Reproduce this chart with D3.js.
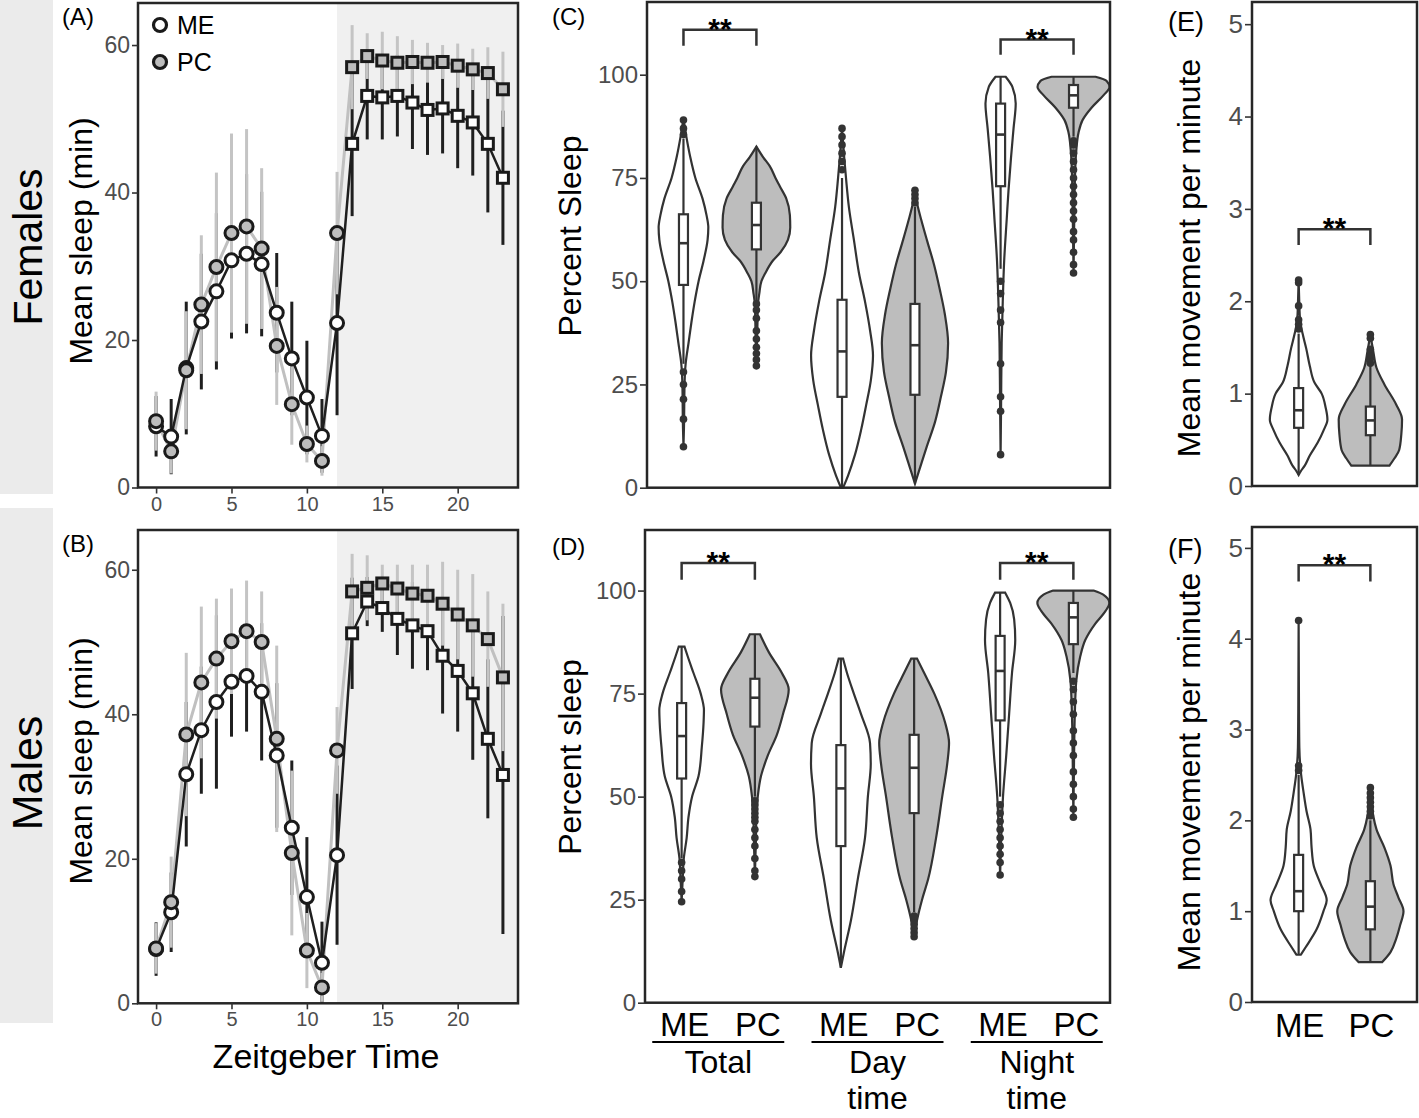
<!DOCTYPE html>
<html>
<head>
<meta charset="utf-8">
<script src="https://cdn.jsdelivr.net/npm/d3@7"></script>
<style>
  body { margin: 0; background: #fff; }
  svg { display: block; }
</style>
</head>
<body>
<svg width="1419" height="1118"></svg>
<script>
// sleep of ME vs PC flies, females on top, males below

var FONT = "'Liberation Sans', Arial, Helvetica, sans-serif";
var INK = "#333333", TICKTXT = "#4d4d4d", PCFILL = "#bdbdbd", NIGHT = "#f0f0f0";

// ---------------- data: mean sleep per hour (A, B) ----------------
var zt = [0,1,2,3,4,5,6,7,8,9,10,11,12,13,14,15,16,17,18,19,20,21,22,23];

var femME   = [8.3,6.9,16.2,22.5,26.6,30.8,31.7,30.3,23.7,17.5,12.2,7.0,22.3,46.6,53.1,52.9,53.1,52.2,51.2,51.4,50.4,49.5,46.6,42.0];
var femMEse = [4.1,5.1,9.0,9.2,10.6,10.6,10.8,9.8,8.1,7.7,7.7,5.0,12.5,9.8,5.9,5.7,5.5,6.3,6.1,6.1,7.1,7.2,9.3,9.1];
var femPC   = [9.0,4.9,15.9,24.8,29.9,34.5,35.4,32.4,19.2,11.3,5.9,3.6,34.5,57.0,58.5,57.9,57.6,57.7,57.6,57.7,57.2,56.7,56.2,54.0];
var femPCse = [4.0,3.0,8.0,9.4,12.8,13.5,13.2,10.9,8.0,5.5,2.5,2.0,8.3,5.7,3.1,3.9,3.6,3.0,2.7,2.3,3.0,2.8,3.5,5.1];

var maleME   = [7.5,12.6,31.7,37.8,41.7,44.5,45.3,43.1,34.3,24.3,14.7,5.6,20.5,51.2,55.6,54.7,53.2,52.3,51.5,48.1,46.0,42.9,36.6,31.6];
var maleMEse = [3.7,5.5,10.0,8.8,12.0,7.6,7.7,9.5,10.0,9.3,8.3,5.7,12.4,7.7,3.4,3.3,5.0,6.0,5.4,8.0,8.4,9.2,11.0,22.0];
var malePC   = [7.6,14.0,37.2,44.4,47.7,50.1,51.5,50.0,36.6,20.8,7.3,2.2,35.0,57.0,57.5,58.1,57.4,56.7,56.4,55.3,53.8,52.3,50.4,45.1];
var malePCse = [3.5,6.3,11.3,10.5,8.3,7.3,7.0,7.0,12.9,11.4,5.2,2.0,6.0,5.2,4.5,2.6,3.3,4.0,4.3,5.8,6.2,7.1,6.6,10.2];

// ---------------- data: violins (value, relative density) ----------------
var strains = ["ME", "PC"];
var periods = ["Total", "Day time", "Night time"];

// panel C, females, percent sleep
var cTotME = [[9.9,0],[15,.015],[25,.03],[30,.06],[35,.14],[40,.22],[45,.31],[50,.42],[55,.56],[60,.67],[63,.69],[66,.64],[70,.53],[75,.33],[80,.19],[85,.08],[89.4,0]];
var cTotPC = [[29.5,0],[35,.017],[40,.03],[44,.04],[47,.08],[50,.14],[52,.25],[55,.46],[57,.67],[60,.875],[63,.94],[66,.93],[70,.83],[73,.65],[75,.53],[77.8,.375],[80,.19],[82.6,0]];
var cDayME = [[0,.03],[3,.17],[8,.36],[14,.53],[20,.67],[26,.8],[32,.86],[38,.78],[45,.64],[52,.47],[60,.33],[68,.19],[75,.11],[80,.06],[87,0]];
var cDayPC = [[1,0],[4,.11],[10,.33],[16,.56],[22,.72],[28,.86],[35,.92],[42,.83],[48,.69],[54,.53],[60,.33],[65,.17],[68,.08],[72,0]];
var cNigME = [[8,0],[20,.014],[35,.03],[45,.06],[55,.1],[65,.17],[72,.22],[80,.29],[87,.36],[93,.42],[97,.33],[99.5,.14]];
var cNigPC = [[52,0],[65,.02],[75,.04],[82,.08],[86,.14],[89,.25],[92,.5],[95,.83],[97,1],[98.5,.92],[99.5,.61]];
// whisker low, q1, median, q3, whisker high
var cBox = [[30,49.1,59.2,66.2,84.5],[45,57.7,63.6,69.0,82.6],[0,22,33,45.5,75],[1,22.5,34.5,44.5,68],[53,73,85.5,93,99.5],[85,92,95,97.5,99.5]];
var cOut = [[9.9,16.6,21.4,25,28,85.5,87,89],[29.5,31,32.5,34,36,38,41,43,44.5],[77,79,81,83,85,87],[69,70,71,72],[8,18.5,22,30,40,43,47,50],[52,54,57,60,62,65,67,69,71,73,75,77,79,81,83,84]];

// panel D, males, percent sleep
var dTotME = [[24.5,0],[30,.03],[35,.06],[40,.14],[45,.19],[50,.29],[55,.47],[62,.56],[68,.61],[71,.62],[75,.53],[80,.33],[84,.17],[86.4,.08]];
var dTotPC = [[30.6,0],[40,.03],[45,.04],[50,.08],[55,.17],[60,.36],[65,.61],[70,.78],[76,.94],[80,.75],[85,.39],[89.4,.14]];
var dDayME = [[8.5,0],[12,.08],[20,.28],[30,.47],[40,.67],[50,.75],[58,.83],[63,.81],[70,.56],[75,.36],[80,.17],[83.5,.06]];
var dDayPC = [[16,0],[20,.08],[25,.22],[30,.39],[40,.61],[50,.78],[58,.92],[63,.97],[68,.86],[75,.56],[80,.28],[83.5,.08]];
var dNigME = [[31,0],[40,.03],[50,.08],[60,.17],[70,.25],[80,.33],[88,.42],[93,.39],[97,.28],[99.5,.14]];
var dNigPC = [[45,0],[60,.02],[70,.04],[78,.08],[84,.19],[88,.33],[92,.61],[95,.89],[97,1],[99,.83],[100,.56]];
var dBox = [[35,54.4,64.7,72.7,86.4],[50,67,74,78.6,89.4],[8.5,38,52,62.5,83.5],[22,46,57,65,83.5],[50,68.5,80.5,89,99.5],[80,87,93.5,97,100]];
var dOut = [[24.5,27,30,32,34],[30.6,32,35,38,40,42,44,45,46,47,48,49],[],[16,17,18,19,20,21],[31,34,36,38,40,42,44,46,48],[45,47,50,53,56,60,63,66,70,73,76,78]];

// panels E, F, mean movement per minute
var eME = [[0.12,0],[0.16,.06],[0.22,.17],[0.33,.31],[0.47,.53],[0.6,.69],[0.72,.8],[0.85,.75],[1.0,.64],[1.12,.44],[1.3,.31],[1.49,.21],[1.65,.11],[1.8,.04],[2.0,.017],[2.23,0]];
var ePC = [[0.22,.53],[0.3,.67],[0.39,.8],[0.56,.86],[0.72,.88],[0.88,.72],[1.1,.39],[1.28,.17],[1.46,.08],[1.64,0]];
var eBox = [[0.12,0.63,0.82,1.06,1.65],[0.22,0.55,0.71,0.86,1.3]];
var eOut = [[1.7,1.75,1.8,1.95,2.2,2.23],[1.33,1.38,1.42,1.48,1.6,1.64]];

var fME = [[0.52,.06],[0.6,.19],[0.8,.5],[1.0,.69],[1.12,.78],[1.3,.61],[1.5,.42],[1.7,.36],[1.9,.33],[2.1,.22],[2.3,.14],[2.5,.07],[2.8,.02],[3.2,.01],[4.2,0]];
var fPC = [[0.44,.33],[0.55,.56],[0.7,.72],[0.85,.83],[1.0,.92],[1.15,.78],[1.3,.64],[1.5,.56],[1.7,.39],[1.9,.17],[2.05,.08],[2.2,.03],[2.36,0]];
var fBox = [[0.52,1.0,1.22,1.62,2.5],[0.44,0.8,1.05,1.33,2.0]];
var fOut = [[2.55,2.6,4.2],[2.05,2.1,2.15,2.2,2.25,2.3,2.36]];

// significance brackets: [first index, second index, top value, foot value]
var cSig = [[0,1,110.9,107.0],[4,5,108.5,104.8]];
var dSig = [[0,1,106.7,102.6],[4,5,106.7,102.6]];
var eSig = [[0,1,2.78,2.61]];
var fSig = [[0,1,4.81,4.63]];

// ------------------------------------------------------------------
var svg = d3.select("svg").attr("font-family", FONT);

// row strips
svg.append("rect").attr("x", 0).attr("y", 0).attr("width", 53).attr("height", 494).attr("fill", "#ebebeb");
svg.append("rect").attr("x", 0).attr("y", 508).attr("width", 53).attr("height", 515).attr("fill", "#ebebeb");
vtext(42, 247, "Females", 41, "#000");
vtext(42, 773, "Males", 43, "#000");

function vtext(x, y, s, size, col) {
  return svg.append("text")
    .attr("transform", "translate(" + [x, y] + ") rotate(-90)")
    .attr("text-anchor", "middle")
    .attr("font-size", size)
    .attr("fill", col)
    .text(s);
}

function label(x, y, s, size, anchor, weight) {
  return svg.append("text")
    .attr("x", x).attr("y", y)
    .attr("text-anchor", anchor || "start")
    .attr("font-size", size)
    .attr("font-weight", weight || "normal")
    .attr("fill", "#000")
    .text(s);
}

function styleAxis(g, size) {
  g.attr("font-family", FONT).attr("font-size", size);
  g.select(".domain").remove();
  g.selectAll(".tick line").attr("stroke", INK).attr("stroke-width", 1.6);
  g.selectAll(".tick text").attr("fill", TICKTXT);
}

// ---------------- A / B time course ----------------
function sleepPanel(o) {
  var x = d3.scaleLinear().domain([-1.2, 24]).range([138, 518]);
  var y = d3.scaleLinear().domain([0, o.ymax]).range([o.bottom, o.top]);
  var g = svg.append("g");

  g.append("rect")
    .attr("x", x(12)).attr("y", o.top)
    .attr("width", 518 - x(12)).attr("height", o.bottom - o.top)
    .attr("fill", NIGHT);

  var me = zt.map(function(t, i){ return {t: t, m: o.me[i], se: o.meSe[i]}; });
  var pc = zt.map(function(t, i){ return {t: t, m: o.pc[i], se: o.pcSe[i]}; });

  function bars(data, col) {
    g.append("g").selectAll("line").data(data).enter().append("line")
      .attr("x1", function(d){ return x(d.t); })
      .attr("x2", function(d){ return x(d.t); })
      .attr("y1", function(d){ return y(Math.max(0, d.m - d.se)); })
      .attr("y2", function(d){ return y(d.m + d.se); })
      .attr("stroke", col).attr("stroke-width", 3);
  }
  bars(me, "#1f1f1f");
  bars(pc, "#c4c4c4");

  var line = d3.line().x(function(d){ return x(d.t); }).y(function(d){ return y(d.m); });
  g.append("path").datum(pc).attr("d", line).attr("fill", "none").attr("stroke", "#c0c0c0").attr("stroke-width", 3);
  g.append("path").datum(me).attr("d", line).attr("fill", "none").attr("stroke", "#1f1f1f").attr("stroke-width", 2.5);

  function marks(data, fill) {
    var mg = g.append("g");
    mg.selectAll("circle").data(data.filter(function(d){ return d.t <= 12; })).enter().append("circle")
      .attr("cx", function(d){ return x(d.t); })
      .attr("cy", function(d){ return y(d.m); })
      .attr("r", 6.5)
      .attr("fill", fill).attr("stroke", "#1a1a1a").attr("stroke-width", 3);
    mg.selectAll("rect").data(data.filter(function(d){ return d.t > 12; })).enter().append("rect")
      .attr("x", function(d){ return x(d.t) - 5.5; })
      .attr("y", function(d){ return y(d.m) - 5.5; })
      .attr("width", 11).attr("height", 11)
      .attr("fill", fill).attr("stroke", "#1a1a1a").attr("stroke-width", 3);
  }
  marks(me, "#fff");
  marks(pc, PCFILL);

  g.append("rect")
    .attr("x", 138).attr("y", o.top)
    .attr("width", 380).attr("height", o.bottom - o.top)
    .attr("fill", "none").attr("stroke", "#262626").attr("stroke-width", 2.5);

  var ay = g.append("g").attr("transform", "translate(138,0)")
    .call(d3.axisLeft(y).tickValues([0, 20, 40, 60]).tickSize(6).tickPadding(2));
  styleAxis(ay, 23);
  var ax = g.append("g").attr("transform", "translate(0," + o.bottom + ")")
    .call(d3.axisBottom(x).tickValues([0, 5, 10, 15, 20]).tickSize(6).tickPadding(3));
  styleAxis(ax, 20);

  vtext(92, o.titleY, "Mean sleep (min)", 32, "#000");
  label(62, o.top + 22, o.tag, 24);

  if (o.legend) {
    [["ME", "#fff", 25], ["PC", PCFILL, 62]].forEach(function(l){
      g.append("circle").attr("cx", 160).attr("cy", l[2]).attr("r", 6.5)
        .attr("fill", l[1]).attr("stroke", "#1a1a1a").attr("stroke-width", 3.2);
      label(177, l[2] + 9, l[0], 25);
    });
  }
}

sleepPanel({top: 3, bottom: 487.5, ymax: 65.7, me: femME, meSe: femMEse, pc: femPC, pcSe: femPCse, tag: "(A)", titleY: 241, legend: true});
sleepPanel({top: 530, bottom: 1003.3, ymax: 65.5, me: maleME, meSe: maleMEse, pc: malePC, pcSe: malePCse, tag: "(B)", titleY: 761, legend: false});
label(326, 1068, "Zeitgeber Time", 34, "middle");

// ---------------- violin panels ----------------
var wScale = d3.scaleLinear().domain([0, 1]).range([0, 36]);

function violinPanel(o) {
  var y = d3.scaleLinear().domain([0, o.ymax]).range([o.bottom, o.top]);
  var g = svg.append("g");

  var area = d3.area()
    .curve(d3.curveMonotoneY)
    .y(function(d){ return y(d[0]); });

  o.viol.forEach(function(v, i){
    var cx = o.cx(i);
    g.append("path").datum(v)
      .attr("d", area.x0(function(d){ return cx - wScale(d[1]); }).x1(function(d){ return cx + wScale(d[1]); }))
      .attr("fill", i % 2 ? PCFILL : "#fff")
      .attr("stroke", INK).attr("stroke-width", 2.2);

    var b = o.box[i];
    g.append("line").attr("x1", cx).attr("x2", cx).attr("y1", y(b[0])).attr("y2", y(b[4]))
      .attr("stroke", INK).attr("stroke-width", 2.2);
    g.append("g").selectAll("circle").data(o.out[i]).enter().append("circle")
      .attr("cx", cx).attr("cy", function(d){ return y(d); }).attr("r", 3.8)
      .attr("fill", INK);
    g.append("rect").attr("x", cx - 4.5).attr("width", 9)
      .attr("y", y(b[3])).attr("height", y(b[1]) - y(b[3]))
      .attr("fill", "#fff").attr("stroke", INK).attr("stroke-width", 2.2);
    g.append("line").attr("x1", cx - 4.5).attr("x2", cx + 4.5).attr("y1", y(b[2])).attr("y2", y(b[2]))
      .attr("stroke", INK).attr("stroke-width", 2.6);
  });

  o.sig.forEach(function(s){
    var x1 = o.cx(s[0]), x2 = o.cx(s[1]);
    g.append("path")
      .attr("d", "M" + x1 + "," + y(s[3]) + "V" + y(s[2]) + "H" + x2 + "V" + y(s[3]))
      .attr("fill", "none").attr("stroke", INK).attr("stroke-width", 2.5);
    label((x1 + x2) / 2, y(s[2]) + 9, "**", 30, "middle", "bold");
  });

  g.append("rect")
    .attr("x", o.left).attr("y", o.top)
    .attr("width", o.right - o.left).attr("height", o.bottom - o.top)
    .attr("fill", "none").attr("stroke", "#262626").attr("stroke-width", 2.5);

  var ay = g.append("g").attr("transform", "translate(" + o.left + ",0)")
    .call(d3.axisLeft(y).tickValues(o.ticks).tickFormat(d3.format("d")).tickSize(7).tickPadding(2));
  styleAxis(ay, o.tickSize);

  vtext(o.titleX, o.titleY, o.title, 32, "#000");
  label(o.tagX, o.top + o.tagDy, o.tag, o.tagSize);
}

// x positions for C, D: three periods, two strains each
function periodX(left, right) {
  var x = d3.scaleLinear().domain([-0.46, 2.46]).range([left, right]);
  return function(i){ return x(Math.floor(i / 2) + (i % 2 ? 0.23 : -0.23)); };
}
var xC = periodX(647, 1110), xD = periodX(645, 1110);

violinPanel({top: 2, bottom: 487.7, left: 647, right: 1110, ymax: 117.6, ticks: [0,25,50,75,100], tickSize: 24,
  viol: [cTotME, cTotPC, cDayME, cDayPC, cNigME, cNigPC], box: cBox, out: cOut, sig: cSig, cx: xC,
  title: "Percent Sleep", titleX: 581, titleY: 236, tag: "(C)", tagX: 552, tagDy: 23, tagSize: 24});
violinPanel({top: 530, bottom: 1002.7, left: 645, right: 1110, ymax: 114.7, ticks: [0,25,50,75,100], tickSize: 24,
  viol: [dTotME, dTotPC, dDayME, dDayPC, dNigME, dNigPC], box: dBox, out: dOut, sig: dSig, cx: xD,
  title: "Percent sleep", titleX: 581, titleY: 757, tag: "(D)", tagX: 552, tagDy: 25, tagSize: 24});

var xE = d3.scalePoint().domain(strains).range([1252, 1417]).padding(0.65);
var xEi = function(i){ return xE(strains[i]); };

violinPanel({top: 2, bottom: 486, left: 1252, right: 1417, ymax: 5.24, ticks: [0,1,2,3,4,5], tickSize: 26,
  viol: [eME, ePC], box: eBox, out: eOut, sig: eSig, cx: xEi,
  title: "Mean movement per minute", titleX: 1200, titleY: 258, tag: "(E)", tagX: 1168, tagDy: 29, tagSize: 27});
violinPanel({top: 527, bottom: 1002, left: 1252, right: 1417, ymax: 5.23, ticks: [0,1,2,3,4,5], tickSize: 26,
  viol: [fME, fPC], box: fBox, out: fOut, sig: fSig, cx: xEi,
  title: "Mean movement per minute", titleX: 1200, titleY: 772, tag: "(F)", tagX: 1168, tagDy: 31, tagSize: 27});

// ---------------- category labels under C/D and F ----------------
periods.forEach(function(p, k){
  strains.forEach(function(s, j){
    label(xD(k * 2 + j) + 3, 1036, s, 33, "middle");
  });
  var mid = (xD(k * 2) + xD(k * 2 + 1)) / 2;
  svg.append("line").attr("x1", mid - 66).attr("x2", mid + 66).attr("y1", 1042).attr("y2", 1042)
    .attr("stroke", "#000").attr("stroke-width", 2);
  var words = p.split(" ");
  words.forEach(function(w, n){
    label(mid, 1073 + n * 36, w, 32, "middle");
  });
});
strains.forEach(function(s){
  label(xE(s) + 1, 1037, s, 33, "middle");
});
</script>
</body>
</html>
